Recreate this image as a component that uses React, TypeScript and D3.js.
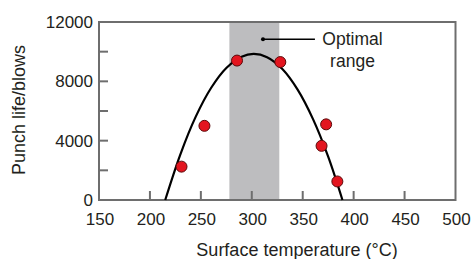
import React from "react";
import * as d3 from "d3";

const W = 475;
const H = 259;

const xTicks = [150, 200, 250, 300, 350, 400, 450, 500];
const yLabelTicks = [0, 4000, 8000, 12000];
const yMinorTicks = [2000, 4000, 6000, 8000, 10000];
const xInnerTicks = [200, 250, 300, 350, 400, 450];

const pointTemps = [231, 253.5, 285.5, 328, 373, 368.5, 384];
const pointLife = [2250, 5000, 9400, 9300, 5100, 3650, 1250];

const curveTemps = [215, 230, 245, 260, 275, 290, 302, 315, 330, 345, 360, 375, 389];
const curveLife = [0, 3100, 5620, 7550, 8900, 9660, 9850, 9630, 8830, 7440, 5470, 2920, 0];

const optimalRange = [278, 327];
const annotationDot = [311, 10830];
const annotationEnd = 362;

const xLabel = "Surface temperature (°C)";
const yLabel = "Punch life/blows";
const annotationLines = ["Optimal", "range"];

export default function App() {
  const x = d3.scaleLinear().domain([150, 500]).range([99, 455.5]);
  const y = d3.scaleLinear().domain([0, 12000]).range([200, 22]);

  const frameColor = "#6e6e6e";
  const textColor = "#231f20";
  const font = "'Liberation Sans', Arial, Helvetica, sans-serif";

  const curveData = curveTemps.map((t, i) => [t, curveLife[i]] as [number, number]);
  const line = d3
    .line<[number, number]>()
    .x((d) => x(d[0]))
    .y((d) => y(d[1]))
    .curve(d3.curveCatmullRom.alpha(0.5));

  return (
    <svg
      width={W}
      height={H}
      style={{ position: "absolute", left: 0, top: 0, background: "#fff" }}
      fontFamily={font}
    >
      <rect x={0} y={0} width={W} height={H} fill="#fff" />
      <rect
        x={x(optimalRange[0])}
        y={y(12000)}
        width={x(optimalRange[1]) - x(optimalRange[0])}
        height={y(0) - y(12000)}
        fill="#bdbdbf"
      />
      <rect
        x={x(150)}
        y={y(12000)}
        width={x(500) - x(150)}
        height={y(0) - y(12000)}
        fill="none"
        stroke={frameColor}
        strokeWidth={2}
      />
      {xInnerTicks.map((t) => (
        <line key={"xt" + t} x1={x(t)} x2={x(t)} y1={y(0)} y2={y(0) - 9} stroke={frameColor} strokeWidth={2} />
      ))}
      {yMinorTicks.map((t) => (
        <line key={"yt" + t} x1={x(150)} x2={x(150) + 9} y1={y(t)} y2={y(t)} stroke={frameColor} strokeWidth={2} />
      ))}
      {xTicks.map((t) => (
        <text key={"xl" + t} x={x(t) + 1} y={225} textAnchor="middle" fontSize={17} fill={textColor}>
          {t}
        </text>
      ))}
      {yLabelTicks.map((t) => (
        <text key={"yl" + t} x={93} y={y(t) + 6} textAnchor="end" fontSize={17} fill={textColor}>
          {t}
        </text>
      ))}
      <text x={297} y={256} textAnchor="middle" fontSize={18} fill={textColor}>
        {xLabel}
      </text>
      <text
        transform={`translate(25, 110) rotate(-90)`}
        textAnchor="middle"
        fontSize={18}
        fill={textColor}
      >
        {yLabel}
      </text>
      <path d={line(curveData) || ""} fill="none" stroke="#000" strokeWidth={2.2} />
      {pointTemps.map((t, i) => (
        <circle
          key={"p" + i}
          cx={x(t)}
          cy={y(pointLife[i])}
          r={5.5}
          fill="#e3151f"
          stroke="#5a0a0a"
          strokeWidth={1}
        />
      ))}
      <line
        x1={x(annotationDot[0])}
        x2={x(annotationEnd)}
        y1={y(annotationDot[1])}
        y2={y(annotationDot[1])}
        stroke="#000"
        strokeWidth={1.5}
      />
      <circle cx={x(annotationDot[0])} cy={y(annotationDot[1])} r={2} fill="#000" />
      <text x={352.5} y={45} textAnchor="middle" fontSize={17.5} fill={textColor}>
        {annotationLines[0]}
      </text>
      <text x={352.5} y={67} textAnchor="middle" fontSize={17.5} fill={textColor}>
        {annotationLines[1]}
      </text>
    </svg>
  );
}
